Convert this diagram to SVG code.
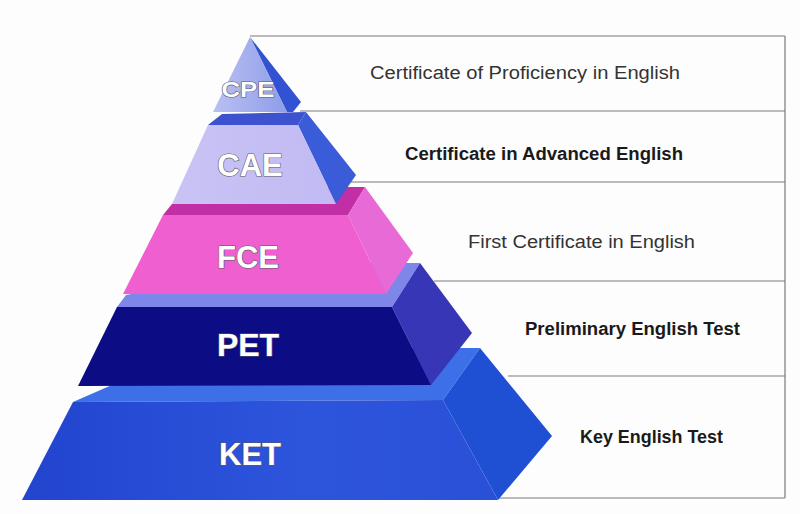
<svg xmlns="http://www.w3.org/2000/svg" width="800" height="514" viewBox="0 0 800 514">
  <defs>
    <linearGradient id="gCpe" x1="0" y1="0" x2="1" y2="0">
      <stop offset="0" stop-color="#b9c0f2"/>
      <stop offset="1" stop-color="#8e9de8"/>
    </linearGradient>
    <linearGradient id="gCae" x1="0" y1="0" x2="1" y2="0">
      <stop offset="0" stop-color="#c9c3f5"/>
      <stop offset="1" stop-color="#c2baf3"/>
    </linearGradient>
    <linearGradient id="gKet" x1="0" y1="0" x2="1" y2="0">
      <stop offset="0" stop-color="#2244cf"/>
      <stop offset="0.6" stop-color="#2d55dc"/>
      <stop offset="1" stop-color="#2a50d8"/>
    </linearGradient>
  </defs>
  <style>
    .lbl { font-family: "Liberation Sans", Arial, sans-serif; font-weight: bold; fill: #ffffff; stroke: #5a5a6a; stroke-width: 1.2; paint-order: stroke; text-anchor: middle; }
    .desc { font-family: "Liberation Sans", Arial, sans-serif; font-size: 18px; fill: #333333; }
    .descb { font-family: "Liberation Sans", Arial, sans-serif; font-size: 18px; font-weight: bold; fill: #1a1a1a; }
    .rule { stroke: #7a7a7a; stroke-width: 1.2; fill: none; }
  </style>
  <rect x="0" y="0" width="800" height="514" fill="#fdfdfd"/>

  <g id="table-lines">
    <line class="rule" x1="250" y1="36" x2="785" y2="36"/>
    <line class="rule" x1="785" y1="36" x2="785" y2="498"/>
    <line class="rule" x1="300" y1="111" x2="785" y2="111"/>
    <line class="rule" x1="351" y1="182" x2="785" y2="182"/>
    <line class="rule" x1="434" y1="281" x2="785" y2="281"/>
    <line class="rule" x1="508" y1="376" x2="785" y2="376"/>
    <line class="rule" x1="498" y1="498" x2="785" y2="498"/>
  </g>

  <g id="ket">
    <polygon points="73,402 112,385 300,348 480,348 443,400" fill="#3d70e8"/>
    <polygon points="443,400 480,348 552,436 498,500" fill="#1f4fd2"/>
    <polygon points="73,402 443,400 498,500 22,500" fill="url(#gKet)"/>
    <text class="lbl" x="250" y="465" font-size="31">KET</text>
  </g>

  <g id="pet">
    <polygon points="117,307 126,295 300,263 420,263 392,307" fill="#7f86ea"/>
    <polygon points="392,307 420,263 472,333 431,385" fill="#3636b6"/>
    <polygon points="117,307 392,307 431,385 78,386" fill="#0c0c85"/>
    <text class="lbl" x="248" y="356" font-size="32">PET</text>
  </g>

  <g id="fce">
    <polygon points="163,215 172,204 300,187 365,187 348,215" fill="#c22ea6"/>
    <polygon points="348,215 365,187 413,253 386,294" fill="#e86ad6"/>
    <polygon points="163,215 348,215 386,294 123,294" fill="#ef5fd0"/>
    <text class="lbl" x="248" y="268" font-size="31">FCE</text>
  </g>

  <g id="cae">
    <polygon points="208,125 222,114 306,112 298,125" fill="#3d52cf"/>
    <polygon points="298,125 306,112 356,175 336,204" fill="#3a5cd8"/>
    <polygon points="208,125 298,125 336,204 172,204" fill="url(#gCae)"/>
    <text class="lbl" x="250" y="176" font-size="31">CAE</text>
  </g>

  <g id="cpe">
    <polygon points="250,37 301,102 293,112 287,112" fill="#3152d2"/>
    <polygon points="250,37 287,112 213,112" fill="url(#gCpe)"/>
    <text class="lbl" x="248" y="97" font-size="22" textLength="53" lengthAdjust="spacingAndGlyphs">CPE</text>
  </g>

  <g id="descriptions">
    <text class="desc" x="370" y="79" textLength="310" lengthAdjust="spacingAndGlyphs">Certificate of Proficiency in English</text>
    <text class="descb" x="405" y="160" textLength="278" lengthAdjust="spacingAndGlyphs">Certificate in Advanced English</text>
    <text class="desc" x="468" y="248" textLength="227" lengthAdjust="spacingAndGlyphs" fill="#444444">First Certificate in English</text>
    <text class="descb" x="525" y="335" textLength="215" lengthAdjust="spacingAndGlyphs">Preliminary English Test</text>
    <text class="descb" x="580" y="443" textLength="143" lengthAdjust="spacingAndGlyphs">Key English Test</text>
  </g>
</svg>
